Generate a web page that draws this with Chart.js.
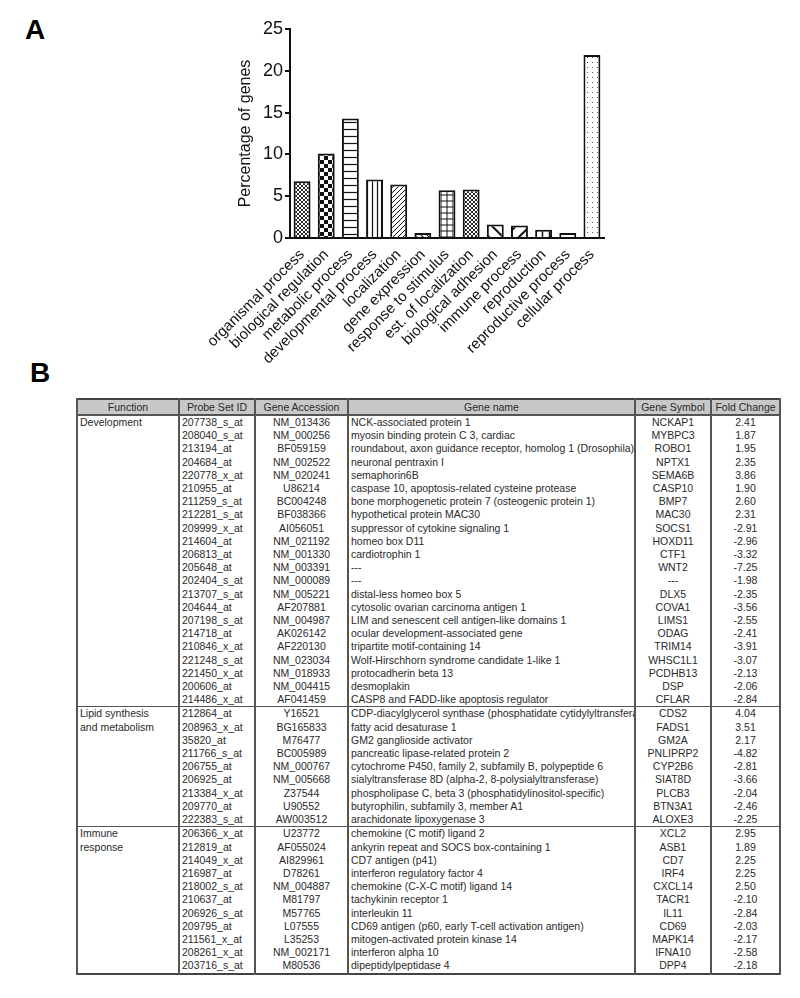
<!DOCTYPE html>
<html>
<head>
<meta charset="utf-8">
<script src="https://cdn.jsdelivr.net/npm/chart.js@4"></script>
<style>
  body { margin: 0; background: #fff; font-family: "Liberation Sans", Arial, sans-serif; }
  .panel { position: absolute; font-weight: bold; font-size: 28px; color: #000; }
  #chart { position: absolute; left: 0; top: 0; }
  #tbl { position: absolute; left: 76px; top: 398px; width: 704px; border-collapse: collapse; table-layout: fixed;
         font-size: 10.5px; color: #2a2a2a; border: 2px solid #444; }
  #tbl td, #tbl th { padding: 0 2px; white-space: nowrap; overflow: hidden; line-height: 13.2px; height: 13.2px;
         border-left: 2px solid #555; border-right: 2px solid #555; }
  #tbl th { background: #c8c8c8; font-weight: normal; height: 14px; line-height: 14px; border-bottom: 2px solid #555; }
  #tbl td.c { text-align: center; }
  #tbl td.fn { vertical-align: top; white-space: normal; }
  #tbl tr.sep td { border-top: 1.5px solid #555; }
</style>
</head>
<body>
<div class="panel" style="left:25px; top:14px;">A</div>
<div class="panel" style="left:30px; top:357px;">B</div>
<canvas id="chart" width="800" height="395"></canvas>
<table id="tbl"></table>
<script>
const categories = [
  'organismal process', 'biological regulation', 'metabolic process', 'developmental process',
  'localization', 'gene expression', 'response to stimulus', 'est. of localization',
  'biological adhesion', 'immune process', 'reproduction', 'reproductive process', 'cellular process'
];
const percentGenes = [6.8, 10.1, 14.3, 7.0, 6.4, 0.6, 5.7, 5.8, 1.6, 1.5, 1.0, 0.6, 21.9];
const yTicks = [0, 5, 10, 15, 20, 25];

// table B
const functions = [['Development'], ['Lipid synthesis', 'and metabolism'], ['Immune', 'response']];
const groupSizes = [22, 9, 11];
const probeIds = [
  '207738_s_at', '208040_s_at', '213194_at', '204684_at', '220778_x_at', '210955_at', '211259_s_at',
  '212281_s_at', '209999_x_at', '214604_at', '206813_at', '205648_at', '202404_s_at', '213707_s_at',
  '204644_at', '207198_s_at', '214718_at', '210846_x_at', '221248_s_at', '221450_x_at', '200606_at',
  '214486_x_at',
  '212864_at', '208963_x_at', '35820_at', '211766_s_at', '206755_at', '206925_at', '213384_x_at',
  '209770_at', '222383_s_at',
  '206366_x_at', '212819_at', '214049_x_at', '216987_at', '218002_s_at', '210637_at', '206926_s_at',
  '209795_at', '211561_x_at', '208261_x_at', '203716_s_at'
];
const accessions = [
  'NM_013436', 'NM_000256', 'BF059159', 'NM_002522', 'NM_020241', 'U86214', 'BC004248', 'BF038366',
  'AI056051', 'NM_021192', 'NM_001330', 'NM_003391', 'NM_000089', 'NM_005221', 'AF207881', 'NM_004987',
  'AK026142', 'AF220130', 'NM_023034', 'NM_018933', 'NM_004415', 'AF041459',
  'Y16521', 'BG165833', 'M76477', 'BC005989', 'NM_000767', 'NM_005668', 'Z37544', 'U90552', 'AW003512',
  'U23772', 'AF055024', 'AI829961', 'D78261', 'NM_004887', 'M81797', 'M57765', 'L07555', 'L35253',
  'NM_002171', 'M80536'
];
const geneNames = [
  'NCK-associated protein 1', 'myosin binding protein C 3, cardiac',
  'roundabout, axon guidance receptor, homolog 1 (Drosophila)', 'neuronal pentraxin I', 'semaphorin6B',
  'caspase 10, apoptosis-related cysteine protease', 'bone morphogenetic protein 7 (osteogenic protein 1)',
  'hypothetical protein MAC30', 'suppressor of cytokine signaling 1', 'homeo box D11', 'cardiotrophin 1',
  '---', '---', 'distal-less homeo box 5', 'cytosolic ovarian carcinoma antigen 1',
  'LIM and senescent cell antigen-like domains 1', 'ocular development-associated gene',
  'tripartite motif-containing 14', 'Wolf-Hirschhorn syndrome candidate 1-like 1', 'protocadherin beta 13',
  'desmoplakin', 'CASP8 and FADD-like apoptosis regulator',
  'CDP-diacylglycerol synthase (phosphatidate cytidylyltransferase)', 'fatty acid desaturase 1',
  'GM2 ganglioside activator', 'pancreatic lipase-related protein 2',
  'cytochrome P450, family 2, subfamily B, polypeptide 6', 'sialyltransferase 8D (alpha-2, 8-polysialyltransferase)',
  'phospholipase C, beta 3 (phosphatidylinositol-specific)', 'butyrophilin, subfamily 3, member A1',
  'arachidonate lipoxygenase 3',
  'chemokine (C motif) ligand 2', 'ankyrin repeat and SOCS box-containing 1', 'CD7 antigen (p41)',
  'interferon regulatory factor 4', 'chemokine (C-X-C motif) ligand 14', 'tachykinin receptor 1',
  'interleukin 11', 'CD69 antigen (p60, early T-cell activation antigen)', 'mitogen-activated protein kinase 14',
  'interferon alpha 10', 'dipeptidylpeptidase 4'
];
const symbols = [
  'NCKAP1', 'MYBPC3', 'ROBO1', 'NPTX1', 'SEMA6B', 'CASP10', 'BMP7', 'MAC30', 'SOCS1', 'HOXD11', 'CTF1',
  'WNT2', '---', 'DLX5', 'COVA1', 'LIMS1', 'ODAG', 'TRIM14', 'WHSC1L1', 'PCDHB13', 'DSP', 'CFLAR',
  'CDS2', 'FADS1', 'GM2A', 'PNLIPRP2', 'CYP2B6', 'SIAT8D', 'PLCB3', 'BTN3A1', 'ALOXE3',
  'XCL2', 'ASB1', 'CD7', 'IRF4', 'CXCL14', 'TACR1', 'IL11', 'CD69', 'MAPK14', 'IFNA10', 'DPP4'
];
const foldChanges = [
  '2.41', '1.87', '1.95', '2.35', '3.86', '1.90', '2.60', '2.31', '-2.91', '-2.96', '-3.32', '-7.25', '-1.98',
  '-2.35', '-3.56', '-2.55', '-2.41', '-3.91', '-3.07', '-2.13', '-2.06', '-2.84',
  '4.04', '3.51', '2.17', '-4.82', '-2.81', '-3.66', '-2.04', '-2.46', '-2.25',
  '2.95', '1.89', '2.25', '2.25', '2.50', '-2.10', '-2.84', '-2.03', '-2.17', '-2.58', '-2.18'
];
const headers = ['Function', 'Probe Set ID', 'Gene Accession', 'Gene name', 'Gene Symbol', 'Fold Change'];

// fill patterns for the bars
function makePattern(size, draw) {
  const c = document.createElement('canvas');
  c.width = size; c.height = size;
  const g = c.getContext('2d');
  g.fillStyle = '#fff';
  g.fillRect(0, 0, size, size);
  g.strokeStyle = '#111';
  g.fillStyle = '#111';
  draw(g, size);
  return g.createPattern(c, 'repeat');
}
const line = (g, x1, y1, x2, y2, w) => {
  g.lineWidth = w; g.beginPath(); g.moveTo(x1, y1); g.lineTo(x2, y2); g.stroke();
};
const diag = (dir, w) => (g, s) => {
  if (dir > 0) { line(g, -1, s + 1, s + 1, -1, w); line(g, -1, 1, 1, -1, w); line(g, s - 1, s + 1, s + 1, s - 1, w); }
  else { line(g, -1, -1, s + 1, s + 1, w); line(g, s - 1, -1, s + 1, 1, w); line(g, -1, s - 1, 1, s + 1, w); }
};
const patterns = [
  makePattern(4, (g, s) => { diag(1, 0.9)(g, s); diag(-1, 0.9)(g, s); }),
  makePattern(8, (g) => { g.fillRect(0, 0, 4, 4); g.fillRect(4, 4, 4, 4); }),
  makePattern(7, (g) => { line(g, 0, 3.5, 7, 3.5, 1.2); }),
  makePattern(5, (g) => { line(g, 2.5, 0, 2.5, 5, 1.2); }),
  makePattern(5, diag(1, 1)),
  makePattern(6, diag(-1, 1.2)),
  makePattern(6, (g) => { line(g, 0, 3, 6, 3, 1); line(g, 3, 0, 3, 6, 1); }),
  makePattern(4, (g, s) => { diag(1, 0.9)(g, s); diag(-1, 0.9)(g, s); }),
  makePattern(14, diag(-1, 2)),
  makePattern(14, diag(1, 2)),
  makePattern(7, (g) => { line(g, 3.5, 0, 3.5, 7, 1.5); }),
  makePattern(8, () => {}),
  makePattern(5, (g) => { g.fillStyle = '#555'; g.fillRect(2, 2, 1, 1); })
];

new Chart(document.getElementById('chart'), {
  type: 'bar',
  data: {
    labels: categories,
    datasets: [{
      data: percentGenes,
      backgroundColor: patterns,
      borderColor: '#111',
      borderWidth: 2,
      borderSkipped: 'bottom',
      barPercentage: 0.7,
      categoryPercentage: 1,
    }],
  },
  options: {
    responsive: false,
    animation: false,
    devicePixelRatio: 1,
    layout: { padding: { left: 236, right: 196, top: 29, bottom: 2 } },
    plugins: { legend: { display: false }, tooltip: { enabled: false } },
    scales: {
      y: {
        min: 0,
        max: 25,
        afterBuildTicks: (scale) => { scale.ticks = yTicks.map((v) => ({ value: v })); },
        afterFit: (scale) => { scale.width = 54; },
        ticks: { color: '#111', font: { family: 'Liberation Sans', size: 18 }, padding: 2 },
        grid: { drawOnChartArea: false, drawTicks: true, tickLength: 5, color: '#111', lineWidth: 2 },
        border: { color: '#111', width: 2 },
        title: {
          display: true, text: 'Percentage of genes', color: '#111',
          font: { family: 'Liberation Sans', size: 16 }, padding: 0,
        },
      },
      x: {
        afterFit: (scale) => { scale.height = 155; },
        ticks: {
          color: '#111', font: { family: 'Liberation Sans', size: 15 },
          minRotation: 45, maxRotation: 45, padding: 0, autoSkip: false,
        },
        grid: { display: false },
        border: { color: '#111', width: 2 },
      },
    },
  },
});

// build table
const tbl = document.getElementById('tbl');
const colWidths = [102, 76, 93, 287, 76, 69];
const colgroup = document.createElement('colgroup');
colWidths.forEach((w) => {
  const col = document.createElement('col');
  col.style.width = w + 'px';
  colgroup.appendChild(col);
});
tbl.appendChild(colgroup);
const head = document.createElement('tr');
headers.forEach((h) => {
  const th = document.createElement('th');
  th.textContent = h;
  head.appendChild(th);
});
tbl.appendChild(head);
let idx = 0;
groupSizes.forEach((n, gi) => {
  for (let k = 0; k < n; k++, idx++) {
    const tr = document.createElement('tr');
    if (gi > 0 && k === 0) tr.className = 'sep';
    if (k === 0) {
      const td = document.createElement('td');
      td.className = 'fn';
      td.rowSpan = n;
      td.innerHTML = functions[gi].join('<br>');
      tr.appendChild(td);
    }
    const cells = [
      [probeIds[idx], ''], [accessions[idx], 'c'], [geneNames[idx], ''],
      [symbols[idx], 'c'], [foldChanges[idx], 'c'],
    ];
    cells.forEach(([txt, cls]) => {
      const td = document.createElement('td');
      td.textContent = txt;
      if (cls) td.className = cls;
      tr.appendChild(td);
    });
    tbl.appendChild(tr);
  }
});
</script>
</body>
</html>
